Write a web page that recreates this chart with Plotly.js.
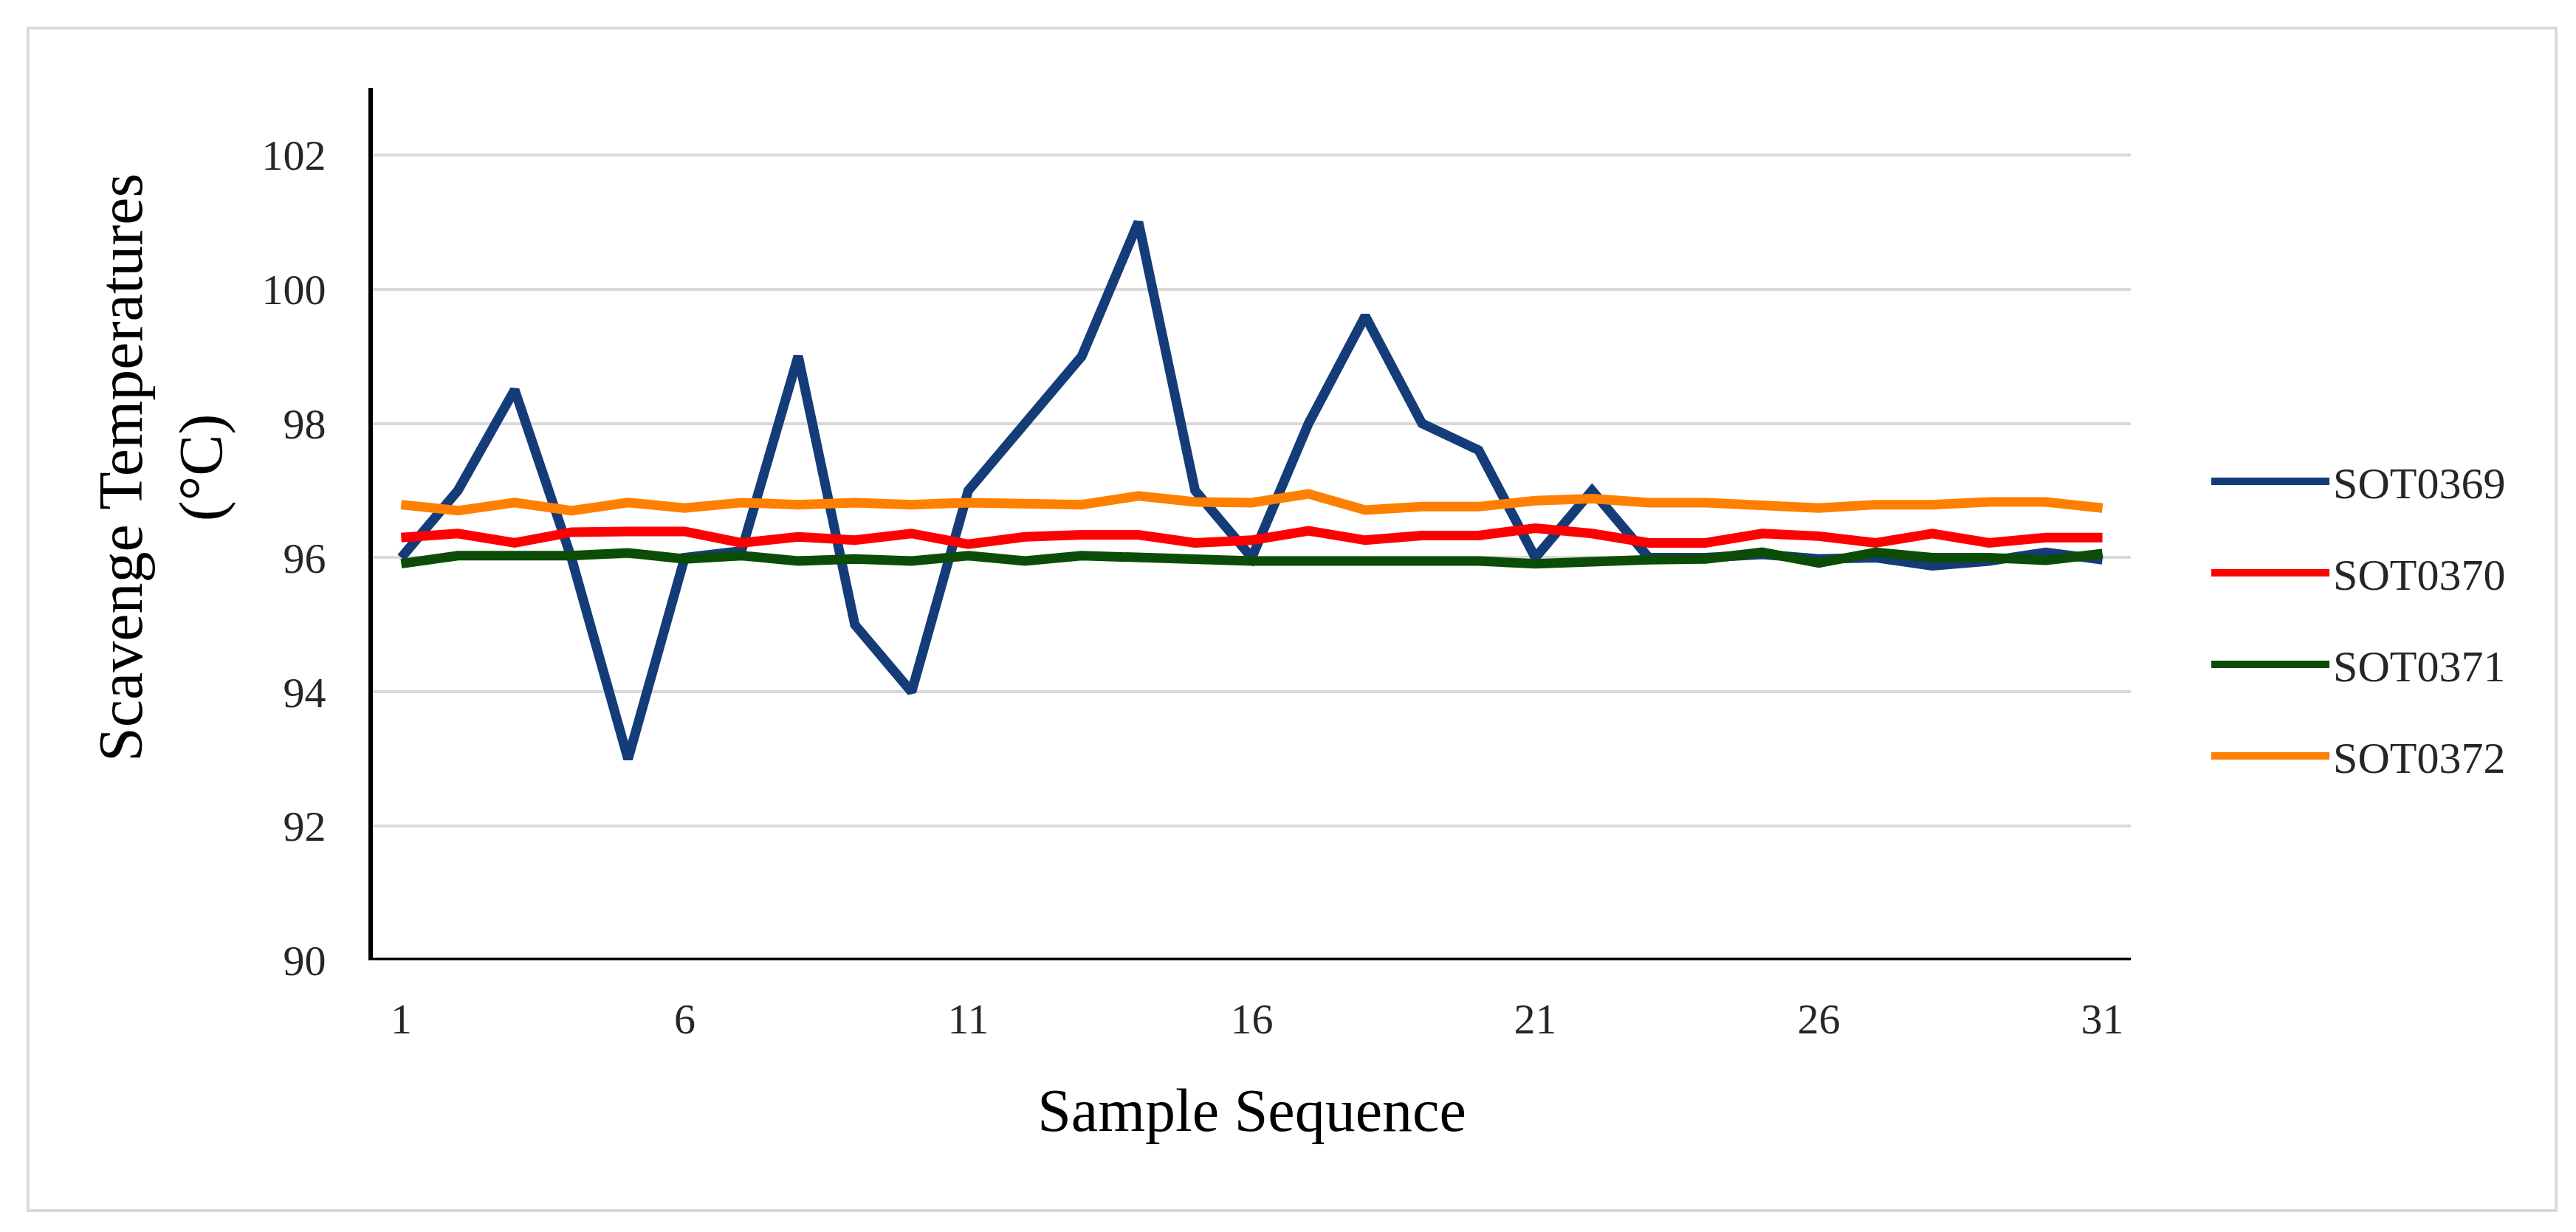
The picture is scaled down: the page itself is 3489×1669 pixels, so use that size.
<!DOCTYPE html>
<html>
<head>
<meta charset="utf-8">
<script src="https://cdn.plot.ly/plotly-3.0.1.min.js"></script>
<style>
  body { margin: 0; background: #fff; }
  #chart { width: 3489px; height: 1669px; }
  #frame { position: absolute; left: 36px; top: 36px; width: 3420px; height: 1598px;
           border: 4px solid #d9d9d9; pointer-events: none; }
</style>
</head>
<body>
<div id="chart"></div>
<div id="frame"></div>
<script>
var samples = [1, 2, 3, 4, 5, 6, 7, 8, 9, 10, 11, 12, 13, 14, 15, 16,
               17, 18, 19, 20, 21, 22, 23, 24, 25, 26, 27, 28, 29, 30, 31];
var xTicks = [1, 6, 11, 16, 21, 26, 31];

var sot0369 = [96, 97, 98.5, 96, 93, 96, 96.1, 99, 95, 94, 97, 98, 99, 101, 97, 96,
               98, 99.6, 98, 97.6, 96, 97, 96, 96, 96.05, 95.98, 96, 95.88, 95.95, 96.08, 95.97];
var sot0370 = [96.3, 96.36, 96.22, 96.38, 96.39, 96.39, 96.22, 96.31, 96.26, 96.36, 96.2, 96.31, 96.34, 96.34, 96.22, 96.26,
               96.4, 96.26, 96.33, 96.33, 96.44, 96.36, 96.22, 96.22, 96.36, 96.32, 96.22, 96.36, 96.22, 96.3, 96.3];
var sot0371 = [95.91, 96.03, 96.03, 96.03, 96.07, 95.98, 96.03, 95.95, 95.98, 95.95, 96.03, 95.95, 96.03, 96.0, 96.0, 95.95,
               95.95, 95.95, 95.95, 95.95, 95.91, 95.95, 95.97, 95.98, 96.08, 95.92, 96.08, 96.0, 96.0, 95.96, 96.06];
var sot0372 = [96.79, 96.7, 96.82, 96.7, 96.82, 96.74, 96.82, 96.79, 96.82, 96.79, 96.82, 96.79, 96.79, 96.92, 96.83, 96.82,
               96.95, 96.71, 96.76, 96.76, 96.85, 96.88, 96.82, 96.82, 96.79, 96.74, 96.79, 96.79, 96.83, 96.83, 96.74];

var seriesNames = ['SOT0369', 'SOT0370', 'SOT0371', 'SOT0372'];
var seriesValues = [sot0369, sot0370, sot0371, sot0372];
var seriesColors = ['#143c78', '#ff0000', '#0b4d06', '#ff7f00'];

var serif = 'Liberation Serif, serif';

var traces = [];
for (var i = 0; i < seriesNames.length; i++) {
    traces.push({
        x: samples,
        y: seriesValues[i],
        type: 'scatter',
        mode: 'lines',
        name: seriesNames[i],
        legendgroup: seriesNames[i],
        line: { color: seriesColors[i], width: 13 }
    });
}

var layout = {
    width: 3489,
    height: 1669,
    margin: { l: 505, r: 603, t: 119, b: 368 },
    paper_bgcolor: '#fff',
    plot_bgcolor: '#fff',
    font: { family: serif, size: 58, color: '#262626' },
    showlegend: true,
    legend: {
        x: 1.0437, xanchor: 'left',
        y: 0.3917, yanchor: 'middle',
        traceorder: 'grouped',
        tracegroupgap: 43,
        itemwidth: 160,
        font: { family: serif, size: 60, color: '#262626' }
    },
    xaxis: {
        range: [0.5, 31.5],
        tickvals: xTicks,
        ticktext: xTicks.map(String),
        showgrid: false,
        zeroline: false,
        showline: false,
        ticks: '',
        ticklabelstandoff: 40,
        title: { text: 'Sample Sequence', font: { family: serif, size: 82, color: '#000' }, standoff: 62 }
    },
    yaxis: {
        range: [90, 103],
        dtick: 2,
        tick0: 90,
        showgrid: true,
        gridcolor: '#d9d9d9',
        gridwidth: 4,
        zeroline: false,
        showline: true,
        linecolor: '#000',
        linewidth: 6,
        ticks: '',
        ticklabelstandoff: 46
    },
    shapes: [{
        type: 'line', xref: 'paper', yref: 'y',
        x0: 0, x1: 1, y0: 90, y1: 90,
        line: { color: '#000', width: 7 }
    }],
    annotations: [{
        xref: 'paper', yref: 'paper',
        x: -0.1201, y: 0.5643,
        xanchor: 'center', yanchor: 'middle',
        textangle: -90,
        showarrow: false,
        text: 'Scavenge Temperatures<br>(°C)',
        font: { family: serif, size: 84, color: '#000' }
    }]
};

Plotly.newPlot('chart', traces, layout, { staticPlot: true });
</script>
</body>
</html>
